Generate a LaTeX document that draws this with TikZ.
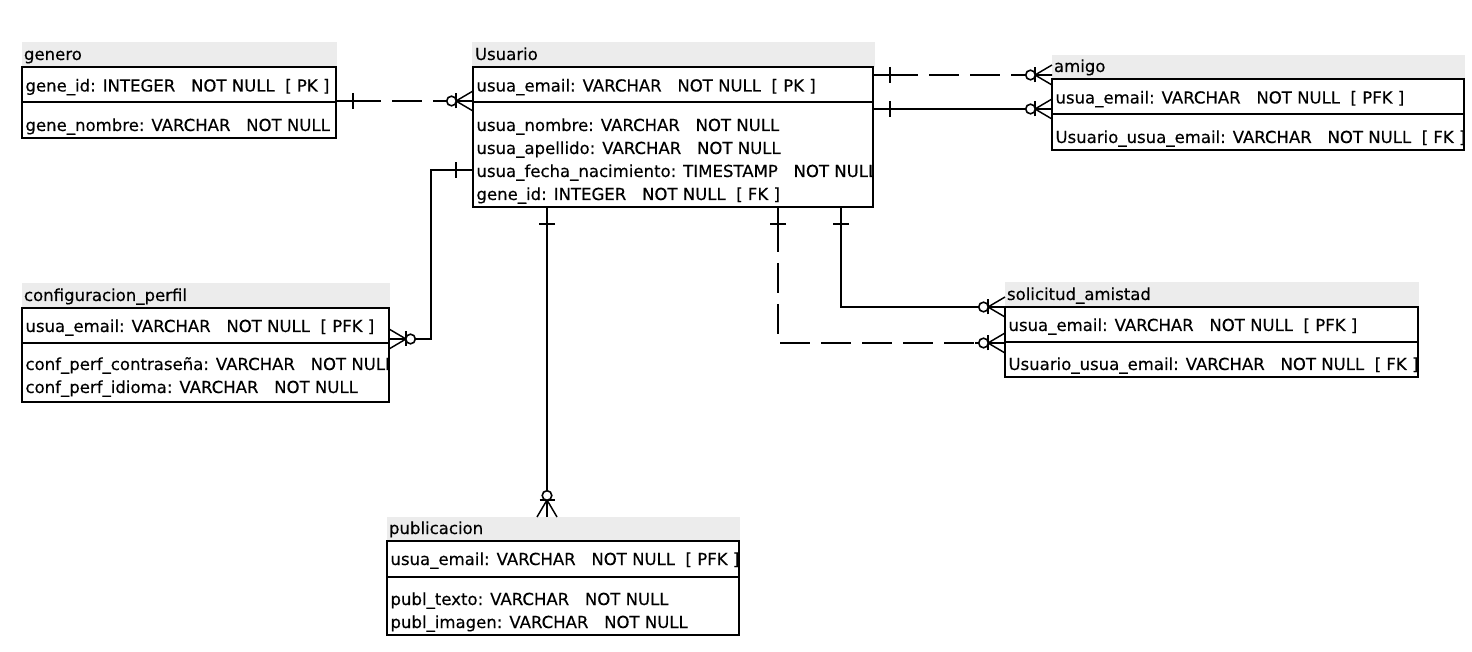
\documentclass[tikz,border=0pt]{standalone}
\usepackage{fontspec}
\setmainfont{DejaVu Sans}[FakeBold=0.35]
\usetikzlibrary{fit}
\definecolor{hdrgray}{RGB}{236,236,236}
\begin{document}
\begin{tikzpicture}[x=0.75pt,y=-0.75pt,
  box/.style={inner sep=0pt, outer sep=0pt},
  hdr/.style={fill=hdrgray, draw=none, inner sep=0pt, outer sep=0pt},
  fld/.style={anchor=base west, inner sep=0pt, outer sep=0pt, font=\fontsize{12.4pt}{15pt}\selectfont},
  border/.style={line width=1.5pt},
  conn/.style={line width=1.5pt},
  dconn/.style={conn, dash pattern=on 22.5pt off 8.25pt, dash phase=19.5pt},
  pics/oneend/.style={code={
     \draw[solid, line width=1.5pt] (0,0) -- (#1,0);
     \draw[solid, line width=1.5pt] (17,-8) -- (17,8);}},
  pics/oneend/.default=0,
  pics/manyend/.style={code={
     \draw[solid, line width=1.5pt] (0,0) -- (30,0);
     \draw[solid, line width=1.1pt] (0,-10) -- (17,0) -- (0,10);
     \draw[solid, line width=1.5pt] (17,-7.5) -- (17,7.5);
     \draw[solid, line width=1.2pt, fill=white] (21.5,0) circle (4.8);}},
]
\useasboundingbox (0,0) rectangle (1472,652);
\fill[white] (0,0) rectangle (1472,652);

% ---------- genero ----------
\node[hdr, fit={(22,42) (337,67)}] (genero-h) {};
\node[box, fit={(22,67) (336,138)}] (genero) {};
\node[fld] (genero-t) at (24,60) {genero};
\begin{scope}
\clip (genero.north west) rectangle (genero.south east);
\node[fld] (genero-f1) at (25.5,91.5) {gene\_id: INTEGER\ \ \ NOT NULL\ \ [ PK ]};
\node[fld] (genero-f2) at (25.5,131) {gene\_nombre: VARCHAR\ \ \ NOT NULL};
\end{scope}
\draw[border] (genero.north west) rectangle (genero.south east);
\draw[border] (genero.west |- 0,102.5) -- (genero.east |- 0,102.5);

% ---------- Usuario ----------
\node[hdr, fit={(472,42) (875,67)}] (usuario-h) {};
\node[box, fit={(473,67) (873,207)}] (usuario) {};
\node[fld] (usuario-t) at (475,60) {Usuario};
\begin{scope}
\clip (usuario.north west) rectangle (usuario.south east);
\node[fld] (usuario-f1) at (476.5,91.5) {usua\_email: VARCHAR\ \ \ NOT NULL\ \ [ PK ]};
\node[fld] (usuario-f2) at (476.5,131) {usua\_nombre: VARCHAR\ \ \ NOT NULL};
\node[fld] (usuario-f3) at (476.5,154) {usua\_apellido: VARCHAR\ \ \ NOT NULL};
\node[fld] (usuario-f4) at (476.5,177) {usua\_fecha\_nacimiento: TIMESTAMP\ \ \ NOT NULL};
\node[fld] (usuario-f5) at (476.5,200) {gene\_id: INTEGER\ \ \ NOT NULL\ \ [ FK ]};
\end{scope}
\draw[border] (usuario.north west) rectangle (usuario.south east);
\draw[border] (usuario.west |- 0,102.5) -- (usuario.east |- 0,102.5);

% ---------- amigo ----------
\node[hdr, fit={(1052,55) (1465,79)}] (amigo-h) {};
\node[box, fit={(1052,79) (1464,150)}] (amigo) {};
\node[fld] (amigo-t) at (1054,72) {amigo};
\begin{scope}
\clip (amigo.north west) rectangle (amigo.south east);
\node[fld] (amigo-f1) at (1055.5,103.5) {usua\_email: VARCHAR\ \ \ NOT NULL\ \ [ PFK ]};
\node[fld] (amigo-f2) at (1055.5,143) {Usuario\_usua\_email: VARCHAR\ \ \ NOT NULL\ \ [ FK ]};
\end{scope}
\draw[border] (amigo.north west) rectangle (amigo.south east);
\draw[border] (amigo.west |- 0,114.5) -- (amigo.east |- 0,114.5);

% ---------- configuracion_perfil ----------
\node[hdr, fit={(22,283) (390,308)}] (config-h) {};
\node[box, fit={(22,308) (389,402)}] (config) {};
\node[fld] (config-t) at (24,301) {configuracion\_perfil};
\begin{scope}
\clip (config.north west) rectangle (config.south east);
\node[fld] (config-f1) at (25.5,332) {usua\_email: VARCHAR\ \ \ NOT NULL\ \ [ PFK ]};
\node[fld] (config-f2) at (25.5,370) {conf\_perf\_contraseña: VARCHAR\ \ \ NOT NULL};
\node[fld] (config-f3) at (25.5,393) {conf\_perf\_idioma: VARCHAR\ \ \ NOT NULL};
\end{scope}
\draw[border] (config.north west) rectangle (config.south east);
\draw[border] (config.west |- 0,343.5) -- (config.east |- 0,343.5);

% ---------- solicitud_amistad ----------
\node[hdr, fit={(1005,282) (1419,307)}] (solicitud-h) {};
\node[box, fit={(1005,307) (1418,377)}] (solicitud) {};
\node[fld] (solicitud-t) at (1007,300) {solicitud\_amistad};
\begin{scope}
\clip (solicitud.north west) rectangle (solicitud.south east);
\node[fld] (solicitud-f1) at (1008.5,331) {usua\_email: VARCHAR\ \ \ NOT NULL\ \ [ PFK ]};
\node[fld] (solicitud-f2) at (1008.5,370) {Usuario\_usua\_email: VARCHAR\ \ \ NOT NULL\ \ [ FK ]};
\end{scope}
\draw[border] (solicitud.north west) rectangle (solicitud.south east);
\draw[border] (solicitud.west |- 0,342) -- (solicitud.east |- 0,342);

% ---------- publicacion ----------
\node[hdr, fit={(387,517) (740,541)}] (publ-h) {};
\node[box, fit={(387,541) (739,635)}] (publ) {};
\node[fld] (publ-t) at (389,534) {publicacion};
\begin{scope}
\clip (publ.north west) rectangle (publ.south east);
\node[fld] (publ-f1) at (390.5,565) {usua\_email: VARCHAR\ \ \ NOT NULL\ \ [ PFK ]};
\node[fld] (publ-f2) at (390.5,605) {publ\_texto: VARCHAR\ \ \ NOT NULL};
\node[fld] (publ-f3) at (390.5,628) {publ\_imagen: VARCHAR\ \ \ NOT NULL};
\end{scope}
\draw[border] (publ.north west) rectangle (publ.south east);
\draw[border] (publ.west |- 0,576.5) -- (publ.east |- 0,576.5);

% ---------- connectors ----------
% genero -- Usuario
\draw[dconn] (genero.east |- 0,101) -- (usuario.west |- 0,101);
\pic at (genero.east |- 0,101) {oneend=45};
\pic[rotate=180] at (usuario.west |- 0,101) {manyend};

% Usuario -- amigo (dashed)
\draw[dconn] (usuario.east |- 0,75) -- (amigo.west |- 0,75);
\pic at (usuario.east |- 0,75) {oneend=45};
\pic[rotate=180] at (amigo.west |- 0,75) {manyend};

% Usuario -- amigo (solid)
\draw[conn] (usuario.east |- 0,109) -- (amigo.west |- 0,109);
\pic at (usuario.east |- 0,109) {oneend};
\pic[rotate=180] at (amigo.west |- 0,109) {manyend};

% Usuario -- configuracion_perfil
\coordinate (b1) at (431,339);
\draw[conn] (usuario.west |- 0,170) -| (b1) -- (config.east |- b1);
\pic[rotate=180] at (usuario.west |- 0,170) {oneend};
\pic at (config.east |- b1) {manyend};

% Usuario -- publicacion
\draw[conn] (547,0 |- usuario.south) -- (547,0 |- publ-h.north);
\pic[rotate=-90] at (547,0 |- usuario.south) {oneend};
\pic[rotate=90] at (547,0 |- publ-h.north) {manyend};

% Usuario -- solicitud_amistad (solid)
\draw[conn] (841,0 |- usuario.south) |- (solicitud.west |- 0,307);
\pic[rotate=-90] at (841,0 |- usuario.south) {oneend};
\pic[rotate=180] at (solicitud.west |- 0,307) {manyend};

% Usuario -- solicitud_amistad (dashed)
\draw[dconn] (778,0 |- usuario.south) |- (solicitud.west |- 0,343);
\pic[rotate=-90] at (778,0 |- usuario.south) {oneend=45};
\pic[rotate=180] at (solicitud.west |- 0,343) {manyend};
\end{tikzpicture}
\end{document}
